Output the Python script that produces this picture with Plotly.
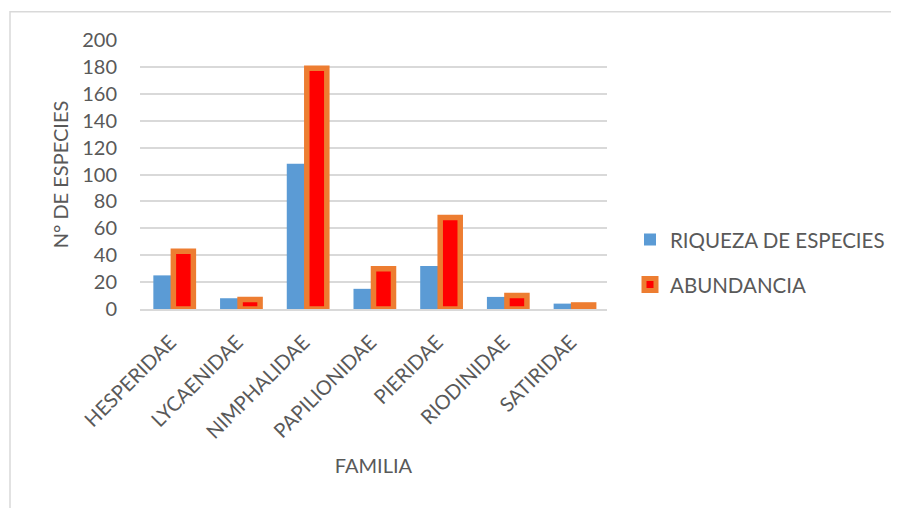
import plotly.graph_objects as go

familias = ["HESPERIDAE", "LYCAENIDAE", "NIMPHALIDAE", "PAPILIONIDAE",
            "PIERIDAE", "RIODINIDAE", "SATIRIDAE"]
riqueza = [25, 8, 108, 15, 32, 9, 4]
abundancia = [43, 7, 179, 30, 68, 10, 3]
y_ticks = [0, 20, 40, 60, 80, 100, 120, 140, 160, 180, 200]

OFF = 8  # page body margin
W, H = 899 - OFF, 508 - OFF
L, R_px, T, B_px = 140 - OFF, 607 - OFF, 40.3 - OFF, 309.3 - OFF
pw, ph = R_px - L, B_px - T

FONT = "Lato"
GRAY = "#595959"
FS = 20
LFS = 20.5

fig = go.Figure()
fig.add_trace(go.Bar(
    x=familias, y=riqueza, name="RIQUEZA DE ESPECIES",
    marker=dict(color="#5B9BD5", line=dict(width=0)),
    legend="legend",
))
fig.add_trace(go.Bar(
    x=familias, y=abundancia, name="ABUNDANCIA",
    marker=dict(color="#FF0000", line=dict(color="#ED7D31", width=5.5)),
    legend="legend2",
))

def px_x(p):
    return (p - OFF - L) / pw

def px_y(p):
    return (B_px - (p - OFF)) / ph

fig.update_layout(
    width=W, height=H,
    margin=dict(l=L, r=W - R_px, t=T, b=H - B_px, autoexpand=False),
    paper_bgcolor="white", plot_bgcolor="white",
    barmode="group", bargap=0.4, bargroupgap=0,
    font=dict(family=FONT, color=GRAY, size=FS),
    showlegend=True,
    legend=dict(x=px_x(630), y=px_y(240), xanchor="left", yanchor="middle",
                font=dict(size=LFS, color=GRAY), bgcolor="rgba(0,0,0,0)"),
    legend2=dict(x=px_x(630), y=px_y(285), xanchor="left", yanchor="middle",
                 font=dict(size=LFS, color=GRAY), bgcolor="rgba(0,0,0,0)"),
    xaxis=dict(
        tickangle=-45, showgrid=False, showline=True, linecolor="#D9D9D9",
        linewidth=1.5, ticks="", tickfont=dict(size=FS, color=GRAY),
        ticklabelstandoff=12, ticklabelshift=-3,
        title=dict(text="FAMILIA", font=dict(size=FS, color=GRAY), standoff=17),
        automargin=False,
    ),
    yaxis=dict(
        range=[0, 200], tickvals=y_ticks, showgrid=True, gridcolor="#D9D9D9",
        gridwidth=1.5, zeroline=False, showline=False, ticks="",
        ticklabelstandoff=22, tickfont=dict(size=FS, color=GRAY),
        title=dict(text="N° DE ESPECIES", font=dict(size=FS, color=GRAY), standoff=8),
        automargin=False,
    ),
    shapes=[dict(type="rect", xref="paper", yref="paper",
                 x0=px_x(10), x1=px_x(905), y0=px_y(520), y1=px_y(12),
                 line=dict(color="#D9D9D9", width=1.5), fillcolor="rgba(0,0,0,0)",
                 layer="below")],
)

fig.write_html("out.html")
